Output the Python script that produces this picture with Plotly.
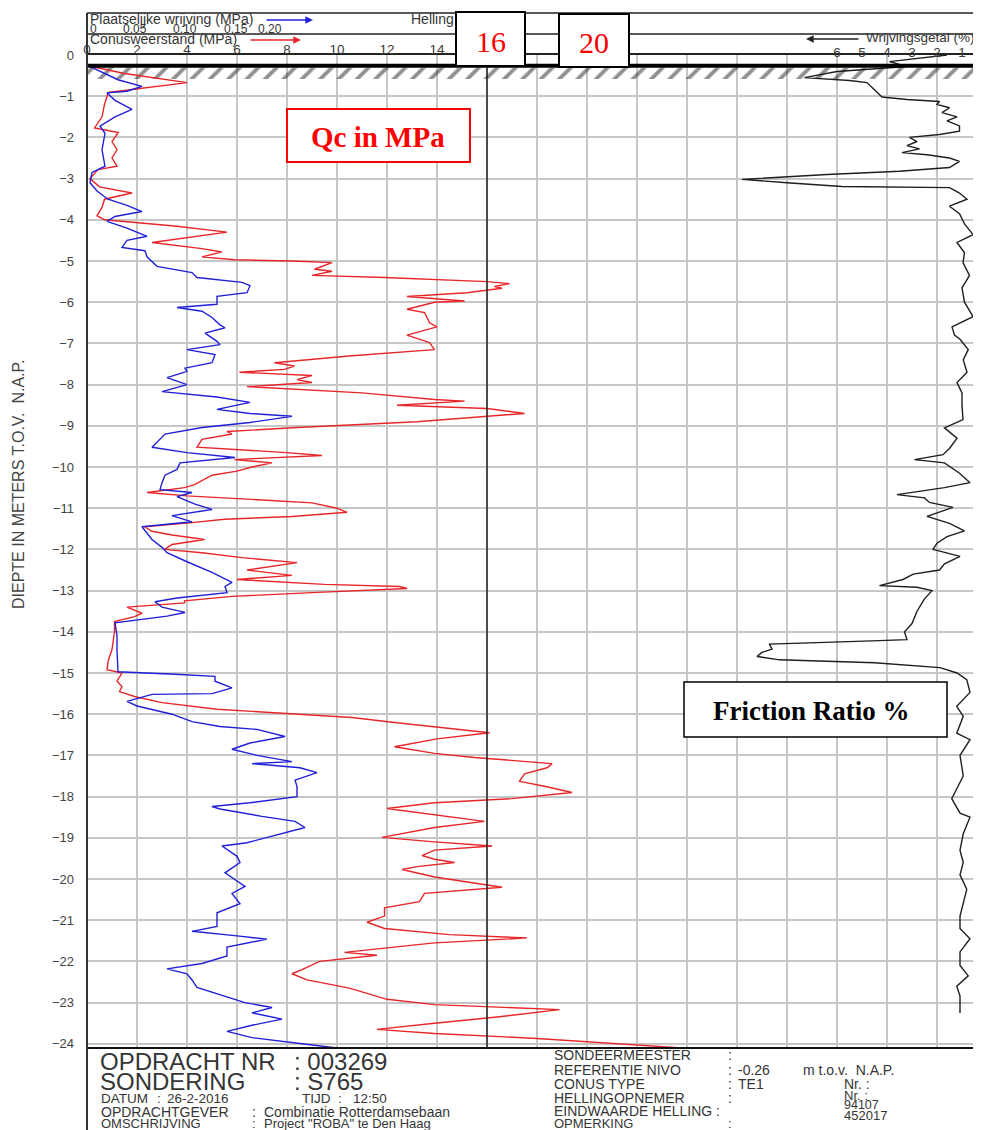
import plotly.graph_objects as go

# ---------------- data ----------------
reference_level = -0.26  # m t.o.v. N.A.P. (ground level)

qc_depth = [-0.26, -0.45, -0.67, -0.79, -0.91, -1.2, -1.5, -1.77, -1.88, -2.1, -2.3, -2.5, -2.7, -2.78,
            -3.0, -3.2, -3.35, -3.5, -3.7, -3.9, -4.0, -4.15, -4.3, -4.55, -4.7, -4.78, -4.9, -4.97,
            -5.0, -5.04, -5.2, -5.25, -5.35, -5.4, -5.5, -5.55, -5.62, -5.66, -5.77, -5.86, -5.97,
            -6.0, -6.17, -6.25, -6.5, -6.6, -6.8, -6.98, -7.15, -7.3, -7.47, -7.55, -7.63, -7.7,
            -7.78, -7.88, -7.95, -8.05, -8.1, -8.2, -8.36, -8.4, -8.5, -8.58, -8.7, -8.9, -9.04,
            -9.14, -9.2, -9.33, -9.52, -9.57, -9.65, -9.72, -9.82, -9.9, -10.0, -10.1, -10.2,
            -10.43, -10.5, -10.62, -10.7, -10.8, -10.87, -11.0, -11.1, -11.2, -11.27, -11.35,
            -11.45, -11.56, -11.65, -11.76, -11.88, -12.0, -12.08, -12.2, -12.32, -12.5, -12.63,
            -12.73, -12.85, -12.9, -12.95, -13.05, -13.14, -13.25, -13.3, -13.4, -13.55, -13.63,
            -13.75, -14.0, -14.43, -14.7, -14.92, -15.0, -15.2, -15.33, -15.45, -15.57, -15.72,
            -15.88, -16.08, -16.2, -16.3, -16.38, -16.45, -16.6, -16.79, -16.95, -17.05, -17.2,
            -17.3, -17.45, -17.63, -17.75, -17.9, -18.05, -18.15, -18.29, -18.45, -18.6, -18.75,
            -18.99, -19.1, -19.2, -19.3, -19.43, -19.52, -19.6, -19.7, -19.77, -19.95, -20.2,
            -20.35, -20.55, -20.7, -20.9, -21.05, -21.2, -21.35, -21.43, -21.55, -21.78, -21.85,
            -22.0, -22.2, -22.3, -22.45, -22.65, -22.92, -23.05, -23.17, -23.35, -23.5, -23.65,
            -23.75, -23.8, -23.87, -24.1]
qc_mpa = [0.05, 1.5, 4.0, 2.3, 0.85, 0.7, 0.6, 0.3, 1.25, 1.0, 1.2, 1.0, 1.2, 0.44,
          0.12, 0.5, 1.8, 0.7, 0.6, 0.4, 0.7, 3.5, 5.6, 2.6, 4.6, 5.4, 4.6, 5.9,
          8.2, 9.8, 9.1, 9.8, 9.0, 11.9, 16.0, 16.9, 16.3, 16.6, 15.2, 12.8, 15.1,
          13.9, 12.8, 13.5, 13.7, 14.0, 12.8, 13.7, 13.9, 10.6, 7.5, 8.3, 7.9, 6.1,
          9.0, 8.4, 9.0, 6.4, 7.9, 11.0, 13.9, 15.1, 12.4, 16.0, 17.5, 13.2, 8.4,
          5.6, 5.8, 4.6, 4.4, 6.0, 8.0, 9.4, 5.9, 7.4, 6.6, 6.0, 5.0,
          4.3, 3.9, 2.4, 4.0, 7.0, 9.0, 10.0, 10.4, 8.2, 5.5, 4.2,
          2.3, 2.6, 3.4, 4.7, 3.4, 3.1, 4.6, 6.2, 8.4, 6.4, 8.2,
          6.0, 9.5, 12.5, 12.8, 9.0, 5.8, 3.9, 3.9, 1.6, 2.2, 1.9,
          1.1, 1.1, 1.0, 0.85, 0.8, 1.4, 1.2, 1.4, 1.3, 1.9, 3.0,
          5.2, 10.6, 12.3, 13.9, 15.0, 16.1, 14.0, 12.3, 13.9, 15.5, 18.6,
          18.4, 17.5, 17.3, 18.3, 19.4, 17.0, 13.9, 12.0, 13.9, 15.9, 13.9,
          11.8, 13.9, 16.2, 13.9, 13.4, 13.9, 14.7, 13.2, 12.6, 13.9, 16.6,
          13.5, 13.3, 11.9, 11.9, 11.2, 11.9, 14.5, 17.6, 13.9, 10.3, 11.6,
          9.3, 8.6, 8.2, 8.8, 10.5, 12.0, 13.9, 18.9, 16.4, 13.9, 11.6,
          13.9, 15.6, 18.0, 23.8]

fs_depth = [-0.26, -0.6, -0.76, -0.88, -0.92, -1.1, -1.32, -1.5, -1.73, -1.9, -2.3, -2.7, -2.85,
            -3.1, -3.3, -3.5, -3.65, -3.8, -3.92, -4.04, -4.2, -4.4, -4.5, -4.67, -4.75, -4.9,
            -5.13, -5.2, -5.28, -5.4, -5.52, -5.6, -5.77, -5.86, -6.05, -6.13, -6.22, -6.37,
            -6.55, -6.62, -6.75, -6.95, -7.03, -7.15, -7.27, -7.47, -7.6, -7.68, -7.83, -8.0,
            -8.17, -8.3, -8.43, -8.6, -8.7, -8.77, -8.92, -9.04, -9.2, -9.52, -9.65, -9.77,
            -9.9, -10.06, -10.2, -10.38, -10.55, -10.62, -10.72, -10.9, -11.03, -11.18, -11.33,
            -11.45, -11.6, -11.76, -11.95, -12.08, -12.3, -12.56, -12.8, -12.9, -13.05, -13.18,
            -13.27, -13.4, -13.53, -13.62, -13.78, -14.1, -14.43, -14.97, -15.03, -15.08, -15.2,
            -15.36, -15.5, -15.52, -15.69, -15.8, -16.0, -16.18, -16.3, -16.37, -16.54, -16.7,
            -16.85, -17.0, -17.15, -17.2, -17.3, -17.42, -17.6, -17.75, -18.0, -18.15, -18.24,
            -18.3, -18.48, -18.6, -18.75, -18.95, -19.12, -19.2, -19.45, -19.6, -19.85, -20.18,
            -20.35, -20.6, -20.82, -21.15, -21.27, -21.38, -21.46, -21.65, -21.87, -22.05,
            -22.18, -22.3, -22.45, -22.63, -22.85, -23.0, -23.12, -23.25, -23.4, -23.55, -23.7,
            -23.85, -24.0, -24.1]
fs_mpa = [0.001, 0.031, 0.055, 0.040, 0.020, 0.028, 0.045, 0.028, 0.013, 0.018, 0.015, 0.018, 0.005,
          0.003, 0.010, 0.021, 0.040, 0.055, 0.028, 0.020, 0.040, 0.060, 0.040, 0.035, 0.058, 0.060,
          0.070, 0.085, 0.105, 0.110, 0.155, 0.163, 0.160, 0.130, 0.130, 0.090, 0.115, 0.125,
          0.133, 0.138, 0.118, 0.130, 0.133, 0.100, 0.128, 0.125, 0.098, 0.100, 0.080, 0.100,
          0.075, 0.130, 0.163, 0.130, 0.163, 0.205, 0.163, 0.115, 0.078, 0.065, 0.100, 0.148,
          0.093, 0.090, 0.078, 0.075, 0.073, 0.105, 0.090, 0.108, 0.125, 0.085, 0.105,
          0.055, 0.060, 0.065, 0.075, 0.080, 0.100, 0.125, 0.145, 0.138, 0.140, 0.090,
          0.068, 0.075, 0.098, 0.080, 0.028, 0.030, 0.030, 0.031, 0.088, 0.128, 0.128,
          0.145, 0.125, 0.065, 0.040, 0.050, 0.085, 0.105, 0.133, 0.170, 0.198, 0.163,
          0.145, 0.170, 0.205, 0.165, 0.213, 0.230, 0.208, 0.210, 0.210, 0.163, 0.125,
          0.133, 0.175, 0.208, 0.218, 0.185, 0.160, 0.135, 0.150, 0.153, 0.138, 0.158,
          0.145, 0.153, 0.130, 0.130, 0.105, 0.150, 0.180, 0.140, 0.140, 0.115,
          0.080, 0.100, 0.105, 0.110, 0.140, 0.158, 0.185, 0.165, 0.195, 0.165, 0.140,
          0.165, 0.215, 0.250]

rf_depth = [0.0, -0.16, -0.28, -0.4, -0.55, -0.62, -0.67, -0.89, -1.02, -1.08, -1.13, -1.2, -1.28,
            -1.4, -1.5, -1.6, -1.72, -1.85, -1.93, -2.0, -2.1, -2.2, -2.28, -2.37, -2.42, -2.5,
            -2.58, -2.73, -2.82, -2.9, -3.02, -3.1, -3.19, -3.22, -3.35, -3.5, -3.67, -3.85,
            -4.1, -4.36, -4.55, -4.8, -5.04, -5.35, -5.65, -6.0, -6.35, -6.6, -6.8, -6.9, -7.15,
            -7.4, -7.7, -7.95, -8.2, -8.5, -8.85, -9.05, -9.3, -9.55, -9.7, -9.82, -9.9, -10.15,
            -10.38, -10.5, -10.67, -10.75, -10.86, -10.98, -11.2, -11.37, -11.55, -11.69,
            -11.85, -12.0, -12.17, -12.35, -12.5, -12.6, -12.73, -12.88, -12.92, -13.0, -13.2,
            -13.5, -13.8, -14.0, -14.19, -14.22, -14.3, -14.42, -14.5, -14.6, -14.68, -14.75,
            -14.87, -15.0, -15.16, -15.47, -15.81, -16.05, -16.46, -16.62, -17.0, -17.5, -17.8,
            -18.05, -18.4, -18.5, -18.9, -19.3, -19.6, -19.9, -20.25, -20.57, -20.9, -21.2,
            -21.45, -21.77, -22.1, -22.35, -22.6, -22.84, -23.17, -23.25]
rf_pct = [1.6, 3.9, 3.2, 6.0, 7.3, 5.5, 4.8, 4.4, 4.2, 3.2, 1.9, 2.0, 1.5,
          1.8, 1.2, 1.6, 1.1, 1.1, 1.9, 3.1, 2.8, 3.2, 2.7, 3.4, 2.4, 1.5,
          1.1, 1.5, 3.5, 6.4, 9.8, 8.0, 5.8, 1.5, 1.1, 0.8, 1.5, 1.1,
          0.9, 0.56, 1.2, 0.9, 0.96, 0.7, 1.0, 0.9, 0.56, 1.4, 1.3, 1.08, 0.75,
          0.95, 0.8, 1.2, 1.0, 1.0, 0.96, 1.7, 1.2, 1.5, 1.76, 2.9, 1.7, 1.1,
          0.68, 1.7, 3.6, 2.5, 2.3, 1.36, 2.4, 1.5, 0.9, 1.6,
          2.0, 2.16, 1.08, 1.7, 1.9, 2.95, 3.36, 4.3, 2.8, 2.2, 2.5,
          2.8, 3.0, 3.3, 3.2, 4.6, 8.7, 8.6, 9.0, 9.2, 8.3, 4.5,
          1.88, 1.2, 0.81, 0.68, 1.21, 0.95, 1.21, 0.68, 1.08, 0.95, 1.21,
          1.41, 1.08, 0.68, 0.95, 1.08, 0.95, 1.08, 0.81, 0.95, 1.08, 1.08,
          0.68, 1.08, 1.08, 0.75, 1.21, 1.08, 1.08, 1.08]

depth_ticks = list(range(0, -25, -1))
qc_tick_vals = list(range(0, 36, 2))
qc_tick_text = [str(v) if v <= 14 else "" for v in qc_tick_vals]
rf_tick_vals = [1, 2, 3, 4, 5, 6]
fs_tick_labels = ["0", "0.05", "0.10", "0.15", "0.20"]

# ---------------- layout geometry ----------------
# the page adds an 8 px body margin, so the figure is 8 px smaller and
# reference pixel positions are mapped with that offset
PAGE_OFF = 8
W, H = 981 - PAGE_OFF, 1130 - PAGE_OFF
X0_REF, Y0_REF, YB_REF = 87, 55, 1048          # plot area edges in reference pixels
ML, MR, MT, MB = X0_REF - PAGE_OFF, 0, Y0_REF - PAGE_OFF, 1130 - YB_REF
PW, PH = W - ML - MR, H - MT - MB
PX_PER_UNIT = 25.0       # px per MPa (qc) / per % (Rf)
PX_PER_M = 41.2
qc_max = PW / PX_PER_UNIT
fs_max = qc_max * 0.025
rf_left = 36.0
rf_right = rf_left - qc_max
depth_min = -PH / PX_PER_M


def px2x(px):
    return (px - X0_REF) / PW


def py2y(py):
    return (YB_REF - py) / PH


FONT = "Liberation Sans, Arial, sans-serif"
SERIF = "Liberation Serif, Times New Roman, serif"
TXT = "#353535"
GRID = "#c6c6c6"

fig = go.Figure()

# hatched ground layer
fig.add_trace(go.Scatter(
    x=[0, qc_max, qc_max, 0, 0],
    y=[reference_level - 0.05, reference_level - 0.05, reference_level - 0.32,
       reference_level - 0.32, reference_level - 0.05],
    fill="toself", mode="lines", line=dict(width=0),
    fillcolor="rgba(255,255,255,0)",
    fillpattern=dict(shape="/", size=13, solidity=0.3, fgcolor="#222",
                     bgcolor="rgba(255,255,255,0)"),
    hoverinfo="skip", showlegend=False, xaxis="x", yaxis="y"))

fig.add_trace(go.Scatter(x=qc_mpa, y=qc_depth, mode="lines",
                         line=dict(color="#e8262a", width=1.4),
                         name="Conusweerstand", showlegend=False, xaxis="x", yaxis="y"))
fig.add_trace(go.Scatter(x=fs_mpa, y=fs_depth, mode="lines",
                         line=dict(color="#2020d8", width=1.4),
                         name="Plaatselijke wrijving", showlegend=False, xaxis="x2", yaxis="y"))
fig.add_trace(go.Scatter(x=rf_pct, y=rf_depth, mode="lines",
                         line=dict(color="#1e1e1e", width=1.4),
                         name="Wrijvingsgetal", showlegend=False, xaxis="x3", yaxis="y"))

shapes = [
    # ground level line
    dict(type="line", xref="paper", yref="y", x0=0, x1=1, y0=reference_level, y1=reference_level,
         line=dict(color="black", width=4)),
    # 16 MPa vertical line
    dict(type="line", xref="x", yref="paper", x0=16, x1=16, y0=0, y1=1,
         line=dict(color="#222", width=1.5)),
    # header lines
    dict(type="line", xref="paper", yref="paper", x0=0, x1=1, y0=py2y(13), y1=py2y(13),
         line=dict(color="#222", width=1.5)),
    dict(type="line", xref="paper", yref="paper", x0=0, x1=1, y0=py2y(34), y1=py2y(34),
         line=dict(color="#222", width=1.3)),
    # bottom border of plot / top of text block
    dict(type="line", xref="paper", yref="paper", x0=0, x1=1, y0=0, y1=0,
         line=dict(color="#111", width=2)),
    # left border
    dict(type="line", xref="paper", yref="paper", x0=0, x1=0, y0=py2y(1130), y1=py2y(13),
         line=dict(color="#333", width=2)),
    # pasted label boxes
    dict(type="rect", xref="paper", yref="paper", x0=px2x(456), x1=px2x(525),
         y0=py2y(66), y1=py2y(12), fillcolor="white", line=dict(color="black", width=2)),
    dict(type="rect", xref="paper", yref="paper", x0=px2x(559), x1=px2x(629),
         y0=py2y(67), y1=py2y(14), fillcolor="white", line=dict(color="black", width=2)),
    dict(type="rect", xref="paper", yref="paper", x0=px2x(287), x1=px2x(470),
         y0=py2y(162), y1=py2y(109), fillcolor="white", line=dict(color="#ff0000", width=2)),
    dict(type="rect", xref="paper", yref="paper", x0=px2x(684), x1=px2x(947),
         y0=py2y(737), y1=py2y(682), fillcolor="white", line=dict(color="black", width=1.5)),
]

ann = []


def txt(text, px, py, size, color=TXT, xanchor="left", family=FONT, bold=False):
    ann.append(dict(text=("<b>%s</b>" % text) if bold else text, x=px2x(px), y=py2y(py),
                    xref="paper", yref="paper", xanchor=xanchor, yanchor="middle",
                    showarrow=False, font=dict(family=family, size=size, color=color)))


# header texts
txt("Plaatselijke wrijving (MPa)", 88, 19, 14)
txt("Helling", 409, 19, 14)
txt("Conusweerstand (MPa)", 88, 39, 14)
txt("Wrijvingsgetal (%)", 864, 38, 13.5)
for lab, px in zip(fs_tick_labels, [88, 121, 171, 222, 256]):
    txt(lab, px, 29, 12)

# header arrows
for head, tail_dx, py, col in [(313, -48, 20, "#2020d8"), (301, -52, 40, "#e8262a"),
                               (806, 54, 39, "#222")]:
    ann.append(dict(text="", x=px2x(head), y=py2y(py), xref="paper", yref="paper",
                    ax=tail_dx, ay=0, showarrow=True, arrowhead=2, arrowsize=1.1,
                    arrowwidth=1.4, arrowcolor=col))

# pasted labels
txt("16", 490.5, 41, 30, color="#ff0000", xanchor="center", family=SERIF)
txt("20", 594, 42, 30, color="#ff0000", xanchor="center", family=SERIF)
txt("Qc in MPa", 378, 137, 29, color="#ff0000", xanchor="center", family=SERIF, bold=True)
txt("Friction Ratio %", 811, 711, 27, color="black", xanchor="center", family=SERIF, bold=True)

# y-axis title
ann.append(dict(text="DIEPTE IN METERS T.O.V.  N.A.P.", x=px2x(19), y=py2y(484),
                xref="paper", yref="paper", textangle=-90, showarrow=False,
                xanchor="center", yanchor="middle",
                font=dict(family=FONT, size=16, color="#444")))

# bottom block (left)
txt("OPDRACHT NR", 98, 1061, 24)
txt(": 003269", 292, 1061, 24)
txt("SONDERING", 98, 1081, 24)
txt(": S765", 292, 1081, 24)
txt("DATUM", 99, 1098, 13.5)
txt(":", 155, 1098, 13.5)
txt("26-2-2016", 165, 1098, 13.5)
txt("TIJD", 300, 1098, 13.5)
txt(":", 336, 1098, 13.5)
txt("12:50", 351, 1098, 13.5)
txt("OPDRACHTGEVER", 99, 1112, 14)
txt(":", 250, 1112, 14)
txt("Combinatie Rotterdamsebaan", 262, 1112, 14)
txt("OMSCHRIJVING", 99, 1123, 13)
txt(":", 250, 1123, 13)
txt("Project \"ROBA\" te Den Haag", 262, 1123, 13)

# bottom block (right)
txt("SONDEERMEESTER", 552, 1055, 14)
txt(":", 726, 1055, 14)
txt("REFERENTIE NIVO", 552, 1070, 14)
txt(":", 726, 1070, 14)
txt("%.2f" % reference_level, 736, 1070, 14)
txt("m t.o.v.  N.A.P.", 801, 1070, 14)
txt("CONUS TYPE", 552, 1084, 14)
txt(":", 726, 1084, 14)
txt("TE1", 736, 1084, 14)
txt("Nr. :", 842, 1084, 14)
txt("HELLINGOPNEMER", 552, 1098, 14)
txt(":", 726, 1098, 14)
txt("Nr. :", 842, 1095, 13)
txt("94107", 842, 1105, 12.5)
txt("EINDWAARDE HELLING :", 552, 1111, 14)
txt("452017", 842, 1115, 13)
txt("OPMERKING", 552, 1123, 13)
txt(":", 726, 1123, 13)

axis_font = dict(family=FONT, size=13.5, color="#3a3a3a")

fig.update_layout(
    width=W, height=H,
    margin=dict(l=ML, r=MR, t=MT, b=MB, pad=0),
    paper_bgcolor="white", plot_bgcolor="white",
    showlegend=False,
    xaxis=dict(domain=[0, 1], range=[0, qc_max], side="top", tickvals=qc_tick_vals,
               ticktext=qc_tick_text, showgrid=True, gridcolor=GRID, gridwidth=1.5,
               zeroline=False, showline=True, linecolor="#222", linewidth=1.5,
               ticks="", ticklabelstandoff=-6, tickfont=axis_font, fixedrange=True),
    xaxis2=dict(overlaying="x", anchor="y", range=[0, fs_max], visible=False),
    xaxis3=dict(overlaying="x", anchor="y", side="top", range=[rf_left, rf_right],
                tickvals=rf_tick_vals, showgrid=False, zeroline=False, showline=False,
                ticks="", ticklabelstandoff=-6, tickfont=axis_font),
    yaxis=dict(domain=[0, 1], range=[depth_min, 0], tickvals=depth_ticks, showgrid=True,
               gridcolor=GRID, gridwidth=1.5, zeroline=False, showline=False, ticks="",
               ticklabelstandoff=12, tickfont=dict(family=FONT, size=13, color="#444")),
    shapes=shapes,
    annotations=ann,
)

fig.write_html("out.html")
